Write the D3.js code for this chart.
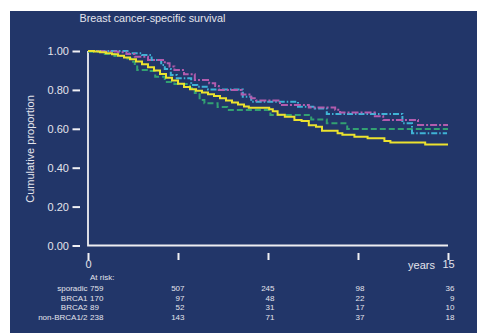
<!DOCTYPE html>
<html><head><meta charset="utf-8">
<script src="https://cdn.jsdelivr.net/npm/d3@7"></script>
<style>html,body{margin:0;padding:0;background:#fff;}svg{display:block;}</style>
</head><body>
<script>
// ---- data ----
const groups = ["sporadic", "BRCA1", "BRCA2", "non-BRCA1/2"];
const sporadicCurve = [[0,1.0],[0.25,0.997],[0.5,0.993],[0.75,0.988],[1.0,0.983],[1.25,0.976],[1.5,0.967],[1.75,0.957],[2.0,0.946],[2.25,0.932],[2.5,0.917],[2.75,0.900],[3.0,0.882],[3.25,0.862],[3.5,0.848],[3.75,0.832],[4.0,0.815],[4.25,0.803],[4.5,0.795],[4.75,0.787],[5.0,0.778],[5.25,0.768],[5.5,0.757],[5.75,0.746],[6.0,0.735],[6.25,0.725],[6.5,0.715],[6.7,0.708],[7.55,0.700],[7.7,0.690],[7.9,0.672],[8.2,0.662],[8.6,0.645],[8.9,0.640],[9.2,0.618],[9.5,0.610],[9.75,0.590],[10.4,0.577],[10.6,0.570],[11.1,0.559],[11.65,0.551],[12.35,0.537],[12.6,0.530],[14.05,0.519],[15,0.519]];
const brca1Curve = [[0,1.0],[0.6,0.997],[1.25,0.993],[1.6,0.985],[1.95,0.971],[2.5,0.954],[3.2,0.937],[3.4,0.920],[3.6,0.902],[4.0,0.880],[4.45,0.851],[5.05,0.834],[5.3,0.820],[5.45,0.799],[6.4,0.776],[6.8,0.757],[7.0,0.745],[8.0,0.722],[9.2,0.710],[10.3,0.698],[10.5,0.684],[11.95,0.664],[12.3,0.645],[13.75,0.620],[15,0.620]];
const brca2Curve = [[0,1.0],[1.7,0.988],[2.25,0.979],[2.65,0.954],[3.05,0.928],[3.2,0.908],[3.45,0.877],[3.7,0.860],[4.3,0.825],[4.55,0.816],[5.0,0.802],[6.45,0.765],[6.8,0.739],[8.75,0.714],[9.45,0.705],[9.95,0.676],[13.1,0.628],[13.5,0.577],[14.96,0.577]];
const nonBrcaCurve = [[0,0.996],[0.7,0.985],[1.1,0.974],[1.5,0.962],[1.8,0.945],[1.95,0.928],[2.05,0.902],[2.45,0.897],[2.8,0.868],[3.2,0.841],[3.6,0.830],[4.25,0.810],[4.45,0.784],[4.65,0.748],[4.85,0.731],[5.4,0.712],[5.8,0.697],[7.6,0.671],[9.3,0.648],[9.95,0.628],[10.8,0.599],[15,0.599]];
const yTicks = [0, 0.2, 0.4, 0.6, 0.8, 1.0];
const xTicks = [0, 3.75, 7.5, 11.25, 15];
const xTickLabels = ["0", "", "", "", "15"];
const riskSporadic = [759, 507, 245, 98, 36];
const riskBRCA1 = [170, 97, 48, 22, 9];
const riskBRCA2 = [89, 52, 31, 17, 10];
const riskNonBRCA = [238, 143, 71, 37, 18];

// ---- drawing ----
const W = 477, H = 333;
const FONT = "'Liberation Sans', Arial, Helvetica, sans-serif";
const svg = d3.select("body").append("svg").attr("width", W).attr("height", H)
  .style("font-family", FONT);
svg.append("rect").attr("x", 10).attr("y", 11).attr("width", W - 10).attr("height", H - 11).attr("fill", "#223669");

const x = d3.scaleLinear().domain([0, 15]).range([88, 448]);
const y = d3.scaleLinear().domain([0, 1]).range([245.5, 51]);
const txt = "#e4e4ec";

svg.append("text").attr("x", 79.5).attr("y", 22).attr("fill", txt)
  .attr("font-size", 10.8).text("Breast cancer-specific survival");

svg.append("text").attr("transform", "translate(34,149) rotate(-90)")
  .attr("text-anchor", "middle").attr("fill", txt).attr("font-size", 11)
  .text("Cumulative proportion");

// y axis ticks
const gy = svg.append("g").attr("transform", "translate(80,0)")
  .call(d3.axisLeft(y).tickValues(yTicks).tickFormat(d3.format(".2f")).tickSize(7.5).tickPadding(3.5));
gy.select(".domain").remove();
gy.selectAll("line").attr("stroke", "#f0f0f4").attr("stroke-width", 2);
gy.selectAll("text").attr("fill", txt).attr("font-size", 11).attr("font-family", FONT);

// x axis ticks
const gx = svg.append("g").attr("transform", "translate(0,253)")
  .call(d3.axisBottom(x).tickValues(xTicks).tickFormat((d, i) => xTickLabels[i]).tickSize(7).tickPadding(0.5));
gx.select(".domain").remove();
gx.selectAll("line").attr("stroke", "#f0f0f4").attr("stroke-width", 2);
gx.selectAll("text").attr("fill", txt).attr("font-size", 11).attr("font-family", FONT);

svg.append("text").attr("x", 435).attr("y", 268.5).attr("text-anchor", "end")
  .attr("fill", txt).attr("font-size", 11).text("years");

// axis frame
svg.append("path")
  .attr("d", `M${x(0)},${y(1)}V${y(0)}H${x(15)}`)
  .attr("fill", "none").attr("stroke", "#eeeef2").attr("stroke-width", 1.8);

// curves
const line = d3.line().x(d => x(d[0])).y(d => y(d[1])).curve(d3.curveStepAfter);
const series = [
  { data: nonBrcaCurve, color: "#33a172", dash: "6,3" },
  { data: brca2Curve, color: "#3fb3d6", dash: "6,2,1.5,2" },
  { data: brca1Curve, color: "#b35cae", dash: "7,2,2,2" },
  { data: sporadicCurve, color: "#ece22e", dash: null }
];
series.forEach(s => {
  svg.append("path").attr("d", line(s.data)).attr("fill", "none")
    .attr("stroke", s.color).attr("stroke-width", 2)
    .attr("stroke-dasharray", s.dash);
});

// at-risk table
const riskRows = [riskSporadic, riskBRCA1, riskBRCA2, riskNonBRCA];
svg.append("text").attr("x", 90).attr("y", 279.5).attr("fill", txt).attr("font-size", 8).text("At risk:");
const rowY = [291, 300.5, 310, 319.5];
groups.forEach((g, i) => {
  svg.append("text").attr("x", 87.5).attr("y", rowY[i]).attr("text-anchor", "end")
    .attr("fill", txt).attr("font-size", 8).text(g);
  riskRows[i].forEach((v, j) => {
    const t = xTicks[j];
    svg.append("text")
      .attr("x", j === 0 ? x(t) + 2 : x(t) + 6.5)
      .attr("y", rowY[i])
      .attr("text-anchor", j === 0 ? "start" : "end")
      .attr("fill", txt).attr("font-size", 8).text(v);
  });
});
</script>
</body></html>
